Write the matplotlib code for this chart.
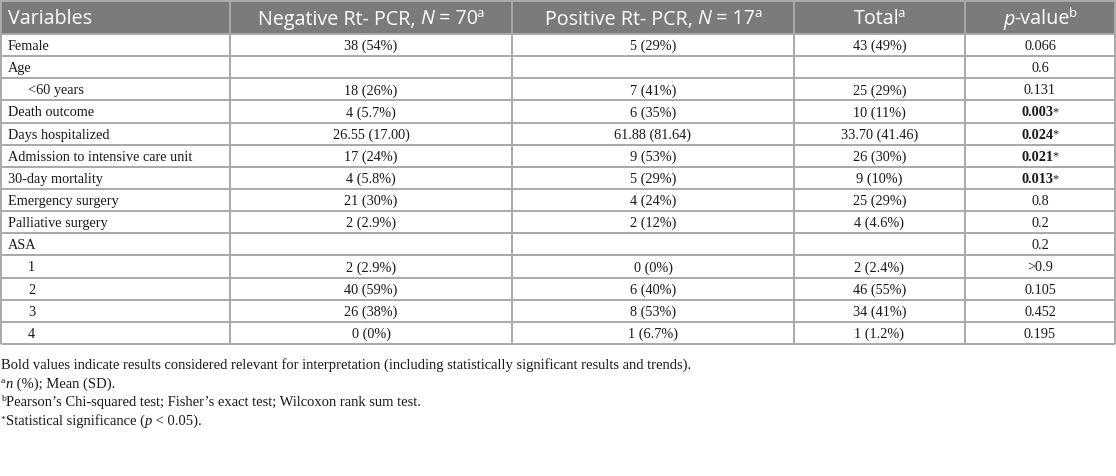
import matplotlib
matplotlib.use("Agg")
import matplotlib.pyplot as plt
from matplotlib.patches import Rectangle

# ---------------- data ----------------
col_headers = ["Variables", "Negative Rt- PCR", "Positive Rt- PCR", "Total", "p-value"]
n_negative = 70
n_positive = 17
variables = ["Female", "Age", "<60 years", "Death outcome", "Days hospitalized",
             "Admission to intensive care unit", "30-day mortality", "Emergency surgery",
             "Palliative surgery", "ASA", "1", "2", "3", "4"]
indented = [False, False, True, False, False, False, False, False, False, False,
            True, True, True, True]
negative = ["38 (54%)", "", "18 (26%)", "4 (5.7%)", "26.55 (17.00)", "17 (24%)", "4 (5.8%)",
            "21 (30%)", "2 (2.9%)", "", "2 (2.9%)", "40 (59%)", "26 (38%)", "0 (0%)"]
positive = ["5 (29%)", "", "7 (41%)", "6 (35%)", "61.88 (81.64)", "9 (53%)", "5 (29%)",
            "4 (24%)", "2 (12%)", "", "0 (0%)", "6 (40%)", "8 (53%)", "1 (6.7%)"]
total = ["43 (49%)", "", "25 (29%)", "10 (11%)", "33.70 (41.46)", "26 (30%)", "9 (10%)",
         "25 (29%)", "4 (4.6%)", "", "2 (2.4%)", "46 (55%)", "34 (41%)", "1 (1.2%)"]
p_values = ["0.066", "0.6", "0.131", "0.003", "0.024", "0.021", "0.013", "0.8", "0.2",
            "0.2", ">0.9", "0.105", "0.452", "0.195"]
significant = [False, False, False, True, True, True, True, False, False, False,
               False, False, False, False]

# ---------------- layout / style ----------------
W, H = 1116, 476
col_edges = [1, 230, 512, 794, 965, 1115]
top = 1
header_h = 33
row_h = 22.14
header_bg = "#7b7b7b"
grid_c = "#a9a9a9"
text_c = "#1a1a1a"
sans = "Open Sans"
serif = "Liberation Serif"
hdr_fs = 14.2
body_fs = 10.3
foot_fs = 10.5

fig = plt.figure(figsize=(W / 100, H / 100), dpi=100)
ax = fig.add_axes([0, 0, 1, 1])
ax.set_xlim(0, W)
ax.set_ylim(H, 0)
ax.axis("off")
renderer = fig.canvas.get_renderer()


def ink_width(s, kw):
    t = ax.text(0, 0, s, **kw)
    w = t.get_window_extent(renderer).width
    t.remove()
    return w


def measure(s, kw, nxt):
    c = nxt if (nxt and not nxt.isspace()) else "n"
    return ink_width(s + c, kw) - ink_width(c, kw)


def draw_runs(x, y, runs, ha="center"):
    """runs: list of (text, kw, rise_px, kern_px). y is baseline (pixels, downwards)."""
    widths = []
    for k, (t, kw, r, kern) in enumerate(runs):
        if k + 1 < len(runs):
            widths.append(measure(t, kw, runs[k + 1][0][0]))
        else:
            widths.append(ink_width(t, kw))
    tot = sum(widths) + sum(r[3] for r in runs)
    cur = x - tot / 2 if ha == "center" else x
    for (t, kw, r, kern), w in zip(runs, widths):
        cur += kern
        ax.text(cur, y - r, t, ha="left", va="baseline", **kw)
        cur += w


def kw(family, size, color=text_c, style="normal", weight="normal"):
    return dict(family=family, fontsize=size, color=color, style=style, fontweight=weight)


# header background
ax.add_patch(Rectangle((col_edges[0], top), col_edges[-1] - col_edges[0], header_h,
                       facecolor=header_bg, edgecolor="none", zorder=0))

# header text
hb = top + header_h / 2 + 7
hn = kw(sans, hdr_fs, "white")
hi = kw(sans, hdr_fs, "white", style="italic")
hs = kw(sans, hdr_fs * 0.68, "white")
sup_r = 7.5
draw_runs(8, hb, [(col_headers[0], hn, 0, 0)], ha="left")
centers = [(col_edges[i] + col_edges[i + 1]) / 2 for i in range(len(col_edges) - 1)]
draw_runs(centers[1], hb, [(col_headers[1] + ", ", hn, 0, 0), ("N", hi, 0, 0),
                           (" = %d" % n_negative, hn, 0, 0), ("a", hs, sup_r, -1.5)])
draw_runs(centers[2], hb, [(col_headers[2] + ", ", hn, 0, 0), ("N", hi, 0, 0),
                           (" = %d" % n_positive, hn, 0, 0), ("a", hs, sup_r, -1.5)])
draw_runs(centers[3], hb, [(col_headers[3], hn, 0, 0), ("a", hs, sup_r, -2.0)])
draw_runs(centers[4], hb, [("p", hi, 0, 0), ("-value", hn, 0, 0), ("b", hs, sup_r, -1)])

# body
bn = kw(serif, body_fs)
bb = kw(serif, body_fs, weight="bold")
bs = kw(serif, body_fs * 0.85)
body_top = top + header_h
for i, var in enumerate(variables):
    yb = body_top + row_h * i + row_h / 2 + 5
    draw_runs(8 + (20 if indented[i] else 0), yb, [(var, bn, 0, 0)], ha="left")
    for c, vals in zip(centers[1:4], [negative, positive, total]):
        if vals[i]:
            draw_runs(c, yb, [(vals[i], bn, 0, 0)])
    if significant[i]:
        draw_runs(centers[4], yb, [(p_values[i], bb, 0, 0), ("*", bs, 1, -0.5)])
    else:
        draw_runs(centers[4], yb, [(p_values[i], bn, 0, 0)])

n_rows = len(variables)
bottom = body_top + row_h * n_rows

# grid lines
for k in range(n_rows + 1):
    y = body_top + row_h * k
    ax.plot([col_edges[0], col_edges[-1]], [y, y], color=grid_c, lw=1.4, solid_capstyle="butt")
ax.plot([col_edges[0], col_edges[-1]], [top, top], color=grid_c, lw=1.4)
for xe in col_edges:
    ax.plot([xe, xe], [top, bottom], color=grid_c, lw=1.4, solid_capstyle="butt")

# footnotes
fn = kw(serif, foot_fs)
fi = kw(serif, foot_fs, style="italic")
fs = kw(serif, foot_fs * 0.65)
fy0 = bottom + 25
dy = 18.7
draw_runs(1, fy0, [("Bold values indicate results considered relevant for interpretation "
                    "(including statistically significant results and trends).", fn, 0, 0)], ha="left")
draw_runs(1, fy0 + dy, [("a", fs, 5, 0), ("n", fi, 0, 0), (" (%); Mean (SD).", fn, 0, 0)], ha="left")
draw_runs(1, fy0 + 2 * dy, [("b", fs, 5, 0),
                            ("Pearson\u2019s Chi-squared test; Fisher\u2019s exact test; "
                             "Wilcoxon rank sum test.", fn, 0, 0)], ha="left")
draw_runs(1, fy0 + 3 * dy, [("*", fs, 3, 0), ("Statistical significance (", fn, 0, 0),
                            ("p", fi, 0, 0), (" < 0.05).", fn, 0, 0)], ha="left")

fig.savefig("out.png", dpi=100)
